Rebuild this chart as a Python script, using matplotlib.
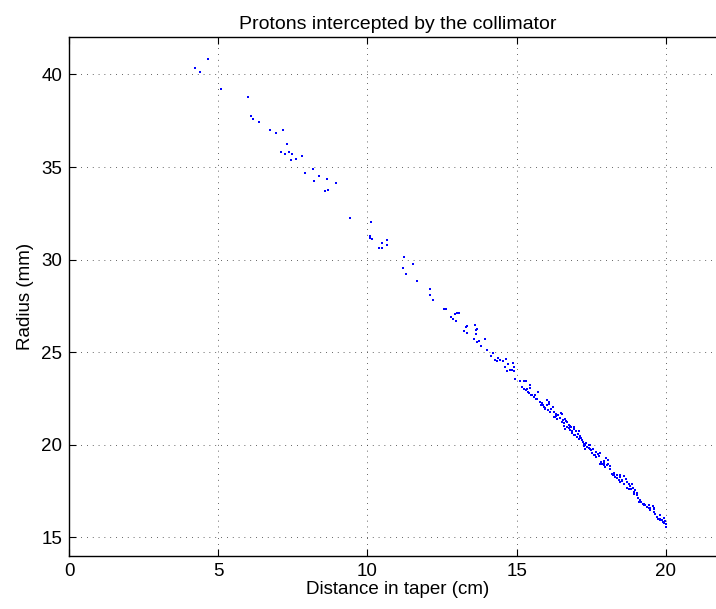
import matplotlib
matplotlib.use("Agg")
import matplotlib.pyplot as plt

plt.rcParams['font.family'] = ['Liberation Sans', 'DejaVu Sans']

# sparse upstream part of the taper
x_upper = [4.22, 4.38, 4.66, 5.10, 6.01, 6.10, 6.17, 6.37, 6.74, 6.94, 7.16, 7.32,
           7.11, 7.23, 7.36, 7.46, 7.43, 7.60, 7.79, 8.19, 7.90, 8.36, 8.21, 8.64,
           8.93, 8.67, 8.58, 9.42]
y_upper = [40.37, 40.15, 40.82, 39.22, 38.77, 37.74, 37.57, 37.44, 36.99, 36.85, 36.99, 36.26,
           35.83, 35.73, 35.80, 35.68, 35.36, 35.46, 35.59, 34.87, 34.67, 34.51, 34.23, 34.33,
           34.12, 33.78, 33.69, 32.23]

# middle part
x_mid = [10.11, 10.09, 10.08, 10.16, 10.48, 10.40, 10.48, 10.66, 10.66, 11.23, 11.51, 11.19,
         11.30, 11.66, 12.10, 12.11, 12.21, 12.57, 12.64, 12.80, 12.86, 12.94, 13.00, 13.07,
         12.97, 13.30, 13.35, 13.25, 13.33, 13.61, 13.67, 13.63, 13.63, 13.58, 13.75, 13.66,
         13.79, 13.95, 14.02, 14.20, 14.15, 14.37, 14.28, 14.33, 14.45, 14.54, 14.63, 14.72,
         14.61, 14.88, 14.91, 14.76, 14.84, 14.67, 14.90, 14.93]
y_mid = [32.02, 31.26, 31.19, 31.10, 30.87, 30.65, 30.62, 31.05, 30.76, 30.13, 29.77, 29.55,
         29.23, 28.85, 28.42, 28.07, 27.80, 27.34, 27.33, 26.91, 26.79, 27.04, 27.13, 27.10,
         26.67, 26.36, 26.40, 26.16, 26.05, 26.47, 26.27, 26.21, 26.00, 25.73, 25.62, 25.55,
         25.32, 25.73, 25.14, 24.96, 24.81, 24.67, 24.58, 24.51, 24.56, 24.51, 24.62, 24.38,
         24.22, 24.40, 24.19, 24.06, 24.06, 23.97, 23.99, 23.56]

# dense band near the exit
x_band = [15.12, 15.23, 15.32, 15.18, 15.25, 15.32, 15.37, 15.43, 15.43, 15.41, 15.51, 15.62,
          15.66, 15.73, 15.79, 15.85, 15.90, 15.94, 16.01, 16.07, 16.08, 16.04, 16.13, 16.22,
          16.24, 16.29, 16.33, 16.35, 16.44, 16.48, 16.52, 16.51, 16.57, 16.63, 16.64, 16.57,
          16.63, 16.68, 16.74, 16.77, 16.80, 16.85, 16.87, 16.91, 16.91, 16.96, 17.02, 17.04,
          17.11, 17.15, 17.08, 17.18, 17.22, 17.24, 17.30, 17.30, 17.35, 17.41, 17.47, 17.49,
          17.52, 17.58, 17.63, 17.67, 17.71, 17.80, 17.82, 17.86, 17.91, 17.94, 17.97, 18.00,
          18.05, 18.05, 18.14, 18.11, 18.19, 18.23, 18.27, 18.30, 18.36, 18.42, 18.47, 18.45,
          18.53, 18.58, 18.61, 18.67, 18.70, 18.75, 18.70, 18.78, 18.83, 18.87, 18.92, 18.94,
          18.97, 19.03, 19.05, 19.12, 19.09, 19.16, 19.23, 19.25, 19.31, 19.37, 19.42, 19.48,
          19.57, 19.59, 19.61, 19.65, 19.70, 19.72, 19.79, 19.81, 19.87, 19.90, 19.95, 19.98,
          20.00, 20.01, 19.92, 19.81, 19.61, 19.48, 19.42, 19.28, 19.14, 19.03, 18.90, 18.81,
          18.54, 18.47, 18.36, 18.25, 18.03, 17.91, 17.80, 17.75, 17.65, 17.56, 17.47, 17.41,
          17.33, 17.24, 17.13, 17.08, 17.00, 16.93, 16.82, 16.74, 16.68, 16.55, 16.40, 16.33,
          16.24, 16.15, 16.01, 15.96, 15.88, 15.81, 15.68, 15.57, 15.49, 15.34]
y_band = [23.46, 23.46, 23.46, 23.11, 23.02, 22.94, 22.87, 23.23, 23.05, 22.78, 22.66, 22.66,
          22.48, 22.84, 22.30, 22.23, 22.03, 21.97, 22.39, 22.30, 22.21, 21.85, 21.76, 22.03,
          21.49, 21.49, 21.54, 21.36, 21.44, 21.72, 21.67, 21.22, 21.19, 21.36, 21.26, 21.01,
          20.86, 20.93, 20.90, 21.01, 20.77, 20.72, 20.65, 20.86, 20.54, 20.50, 20.41, 20.59,
          20.47, 20.36, 20.32, 20.23, 20.14, 20.05, 19.96, 19.78, 19.87, 19.82, 19.78, 19.69,
          19.57, 19.42, 19.46, 19.60, 19.50, 19.57, 19.07, 18.98, 19.03, 18.92, 18.80, 19.28,
          19.19, 18.98, 18.71, 18.85, 18.44, 18.35, 18.49, 18.26, 18.20, 18.08, 17.99, 18.35,
          18.02, 17.90, 18.29, 18.17, 17.99, 17.90, 17.67, 17.63, 17.58, 17.85, 17.45, 17.34,
          17.54, 17.27, 17.14, 17.00, 16.91, 16.88, 16.77, 16.82, 16.73, 16.64, 16.59, 16.46,
          16.70, 16.55, 16.37, 16.28, 16.10, 15.98, 16.01, 15.92, 15.92, 15.84, 15.75, 15.87,
          15.57, 15.69, 16.05, 16.20, 16.59, 16.59, 16.73, 16.73, 17.00, 17.41, 17.67, 17.77,
          18.08, 18.26, 18.35, 18.38, 18.89, 19.10, 18.98, 19.39, 19.34, 19.78, 19.96, 20.00,
          20.11, 19.93, 20.41, 20.72, 20.74, 20.93, 20.95, 21.08, 21.22, 21.31, 21.58, 21.65,
          21.76, 21.94, 22.15, 21.90, 22.12, 22.15, 22.44, 22.57, 22.69, 23.02]

x_ticks = [0, 5, 10, 15, 20]
y_ticks = [15, 20, 25, 30, 35, 40]

fig = plt.figure(figsize=(7.16, 6.09), dpi=100)
# axes runs past the right edge, like the cropped original
ax = fig.add_axes([0.0964, 0.0875, 0.917, 0.851])

for xs, ys in [(x_upper, y_upper), (x_mid, y_mid), (x_band, y_band)]:
    ax.plot(xs, ys, linestyle='none', marker='s', markersize=1.5,
            markeredgewidth=0, color='#0000ff')

ax.set_xlim(0, 22)
ax.set_ylim(14, 42)
ax.set_xticks(x_ticks)
ax.set_yticks(y_ticks)

ax.grid(True, color='0.25', linestyle=(0, (0.8, 5.2)), linewidth=0.7)
ax.tick_params(direction='in', length=5, width=0.8, top=True, right=False,
               labelsize=13.5, pad=5)
for sp in ax.spines.values():
    sp.set_linewidth(1.0)
ax.spines['right'].set_visible(False)

ax.set_xlabel('Distance in taper (cm)', fontsize=13.5, labelpad=1)
ax.set_ylabel('Radius (mm)', fontsize=13.5, labelpad=5)
ax.set_title('Protons intercepted by the collimator', fontsize=14, pad=6)

fig.savefig('out.png', dpi=100, facecolor='white')
